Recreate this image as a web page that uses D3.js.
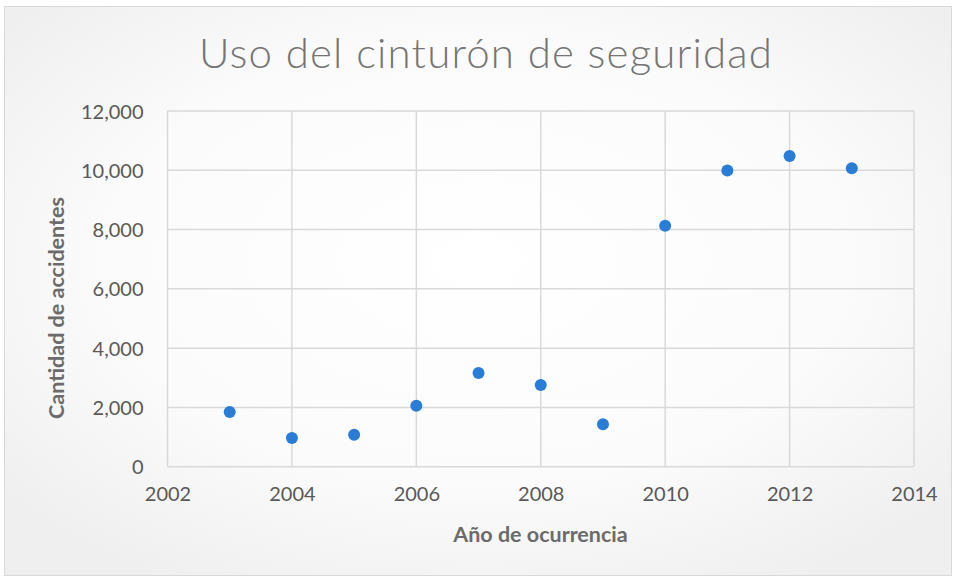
<!DOCTYPE html>
<html><head><meta charset="utf-8">
<script src="https://cdn.jsdelivr.net/npm/d3@7"></script>
<style>html,body{margin:0;padding:0;background:#fff;}svg{display:block;}</style>
</head><body>
<svg id="chart" width="956" height="579"></svg>
<script>
const years = [2003, 2004, 2005, 2006, 2007, 2008, 2009, 2010, 2011, 2012, 2013];
const accidents = [1845, 970, 1080, 2060, 3160, 2757, 1430, 8130, 9990, 10480, 10070];
const xTicks = [2002, 2004, 2006, 2008, 2010, 2012, 2014];
const yTicks = [0, 2000, 4000, 6000, 8000, 10000, 12000];
const title = "Uso del cinturón de seguridad";
const xTitle = "Año de ocurrencia";
const yTitle = "Cantidad de accidentes";

const svg = d3.select("#chart");
const W = 956, H = 579;
const m = {left: 167.5, right: 914, top: 111, bottom: 466.7};

const defs = svg.append("defs");
const g = defs.append("radialGradient").attr("id","bg").attr("cx","50%").attr("cy","45%").attr("r","65%");
g.append("stop").attr("offset","0%").attr("stop-color","#ffffff");
g.append("stop").attr("offset","60%").attr("stop-color","#fbfbfb");
g.append("stop").attr("offset","100%").attr("stop-color","#efefef");

svg.append("rect").attr("x",4.5).attr("y",6.5).attr("width",W-9).attr("height",H-10)
  .attr("fill","url(#bg)").attr("stroke","#d9d9d9").attr("stroke-width",1);

const x = d3.scaleLinear().domain([2002, 2014]).range([m.left, m.right]);
const y = d3.scaleLinear().domain([0, 12000]).range([m.bottom, m.top]);

const grid = svg.append("g");
grid.selectAll("line.h").data(yTicks).join("line")
  .attr("x1", m.left).attr("x2", m.right).attr("y1", d=>y(d)).attr("y2", d=>y(d))
  .attr("stroke","#d9d9d9").attr("stroke-width",1.5);
grid.selectAll("line.v").data(xTicks).join("line")
  .attr("y1", m.top).attr("y2", m.bottom).attr("x1", d=>x(d)).attr("x2", d=>x(d))
  .attr("stroke","#d9d9d9").attr("stroke-width",1.5);

const fmt = d3.format(",");
const font = "Lato, 'Open Sans', sans-serif";

const yAxis = d3.axisLeft(y).tickValues(yTicks).tickFormat(fmt).tickSize(0).tickPadding(24);
const ya = svg.append("g").attr("transform",`translate(${m.left},0)`).call(yAxis);
ya.select(".domain").remove();
ya.selectAll("text").attr("font-family",font).attr("font-size",20).attr("fill","#595959").attr("dy","0.35em");

const xAxis = d3.axisBottom(x).tickValues(xTicks).tickFormat(d3.format("d")).tickSize(0).tickPadding(20);
const xa = svg.append("g").attr("transform",`translate(0,${m.bottom})`).call(xAxis);
xa.select(".domain").remove();
xa.selectAll("text").attr("font-family",font).attr("font-size",20).attr("fill","#595959");

svg.append("g").selectAll("circle").data(years.map((yr,i)=>[yr,accidents[i]])).join("circle")
  .attr("cx", d=>x(d[0])).attr("cy", d=>y(d[1])).attr("r", 6)
  .attr("fill","#2a7dd6");

svg.append("text").attr("x", 485.5).attr("y", 68).attr("text-anchor","middle")
  .attr("font-family","Lato, 'Open Sans', sans-serif").attr("font-weight",300)
  .attr("font-size",42).attr("fill","#757575")
  .attr("textLength",573).attr("lengthAdjust","spacing").text(title);

svg.append("text").attr("x", 540.5).attr("y", 542).attr("text-anchor","middle")
  .attr("font-family",font).attr("font-weight",700).attr("font-size",21.5).attr("fill","#6b6b6b")
  .text(xTitle);

svg.append("text").attr("transform","translate(64,308) rotate(-90)").attr("text-anchor","middle")
  .attr("font-family",font).attr("font-weight",700).attr("font-size",21.5).attr("fill","#6b6b6b")
  .text(yTitle);
</script>
</body></html>
